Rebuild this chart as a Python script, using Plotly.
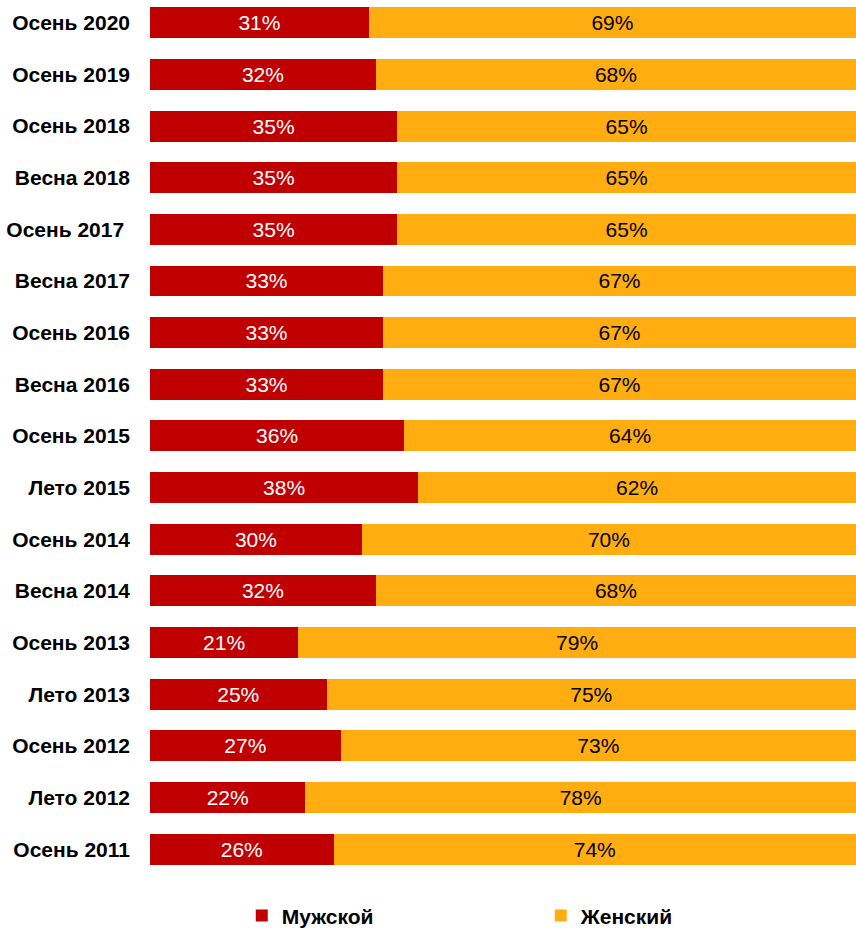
import plotly.graph_objects as go

categories = ["Осень 2020", "Осень 2019", "Осень 2018", "Весна 2018", "Осень 2017\u00a0",
              "Весна 2017", "Осень 2016", "Весна 2016", "Осень 2015", "Лето 2015",
              "Осень 2014", "Весна 2014", "Осень 2013", "Лето 2013", "Осень 2012",
              "Лето 2012", "Осень 2011"]
male = [31, 32, 35, 35, 35, 33, 33, 33, 36, 38, 30, 32, 21, 25, 27, 22, 26]
female = [69, 68, 65, 65, 65, 67, 67, 67, 64, 62, 70, 68, 79, 75, 73, 78, 74]

RED = "#C00000"
ORANGE = "#FFAD10"
FONT = "Liberation Sans, Arial, sans-serif"

fig = go.Figure()
fig.add_trace(go.Bar(
    y=categories, x=male, orientation="h", name="Мужской",
    marker=dict(color=RED, line=dict(width=0)),
    text=[f"{v}%" for v in male], textposition="inside", insidetextanchor="middle",
    textfont=dict(color="white", size=21, family=FONT), constraintext="none",
    hoverinfo="x+y",
))
fig.add_trace(go.Bar(
    y=categories, x=female, orientation="h", name="Женский",
    marker=dict(color=ORANGE, line=dict(width=0)),
    text=[f"{v}%" for v in female], textposition="inside", insidetextanchor="middle",
    textfont=dict(color="black", size=21, family=FONT), constraintext="none",
    hoverinfo="x+y",
))

fig.update_layout(
    width=856, height=928,
    barmode="stack", bargap=0.4,
    margin=dict(l=150, r=0, t=0, b=53, autoexpand=False),
    plot_bgcolor="white", paper_bgcolor="white",
    font=dict(family=FONT, size=21, color="black"),
    xaxis=dict(range=[0, 100], visible=False, showgrid=False, zeroline=False),
    yaxis=dict(categoryorder="array", categoryarray=categories,
               range=[16.5, -0.44], showgrid=False, zeroline=False, showline=False,
               ticks="", ticklabelstandoff=19,
               tickfont=dict(family=FONT, size=21, color="black", weight="bold")),
    legend=dict(orientation="h", xanchor="left", x=0.13, yref="container", y=0.013,
                yanchor="middle", entrywidth=254, entrywidthmode="pixels",
                font=dict(family=FONT, size=21, color="black", weight="bold"),
                itemsizing="constant", traceorder="normal"),
    showlegend=True,
)
fig.write_html("out.html", config={"displayModeBar": False},
               post_script="document.body.style.margin='0';document.body.style.overflow='hidden';")
